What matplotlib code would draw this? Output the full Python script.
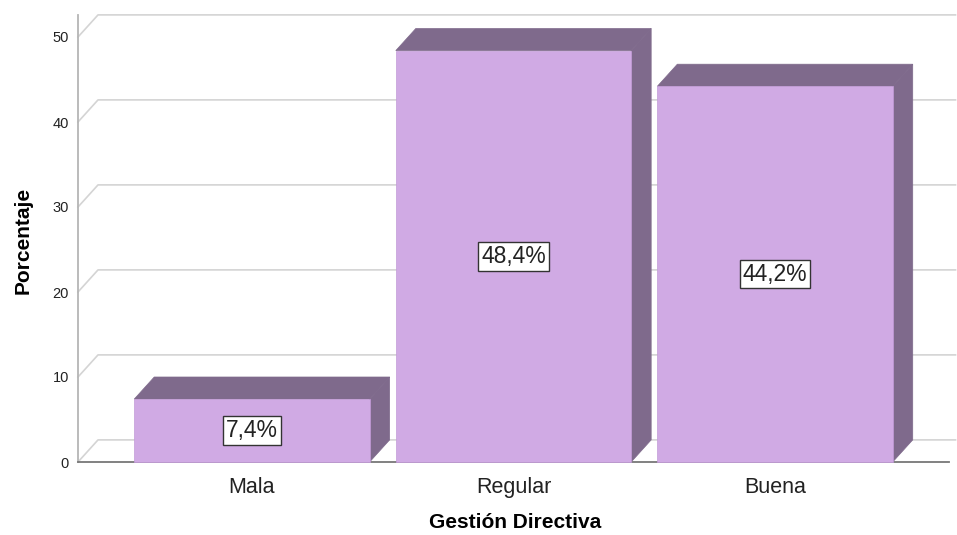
import matplotlib
matplotlib.use("Agg")
import matplotlib.pyplot as plt
from matplotlib.patches import Polygon, Rectangle

plt.rcParams["font.family"] = ["Liberation Sans", "DejaVu Sans"]

categories = ["Mala", "Regular", "Buena"]
percentages = [7.4, 48.4, 44.2]
bar_labels = ["7,4%", "48,4%", "44,2%"]
y_ticks = [0, 10, 20, 30, 40, 50]

FRONT = "#d0aae4"
SHADE = "#7f6a8c"
GRID = "#d4d4d4"

# 3D depth of the bars and the back wall, in data units
DX = 0.0765
DY = 2.6
BAR_W = 0.9
X_MIN, X_MAX_FRONT, X_MAX_BACK = -0.665, 2.665, 2.69

fig = plt.figure(figsize=(9.57, 5.35), dpi=100)
ax = fig.add_axes([78 / 957, 73 / 535, 872 / 957, 425 / 535])
ax.set_xlim(X_MIN, 2.669)
ax.set_ylim(0, 50)
for s in ax.spines.values():
    s.set_visible(False)

# back wall gridlines with the diagonal on the left wall
for v in y_ticks:
    ax.plot([X_MIN, X_MIN + DX, X_MAX_BACK], [v, v + DY, v + DY],
            color=GRID, lw=1.2, clip_on=False, zorder=1)

# left axis line and floor line
ax.plot([X_MIN, X_MIN], [0, 50 + DY], color="#b5b5b5", lw=1.3, clip_on=False, zorder=2)
ax.plot([X_MIN, X_MAX_FRONT], [0, 0], color="#777777", lw=1.3, clip_on=False, zorder=2)

for i, (h, lab) in enumerate(zip(percentages, bar_labels)):
    l, r = i - BAR_W / 2, i + BAR_W / 2
    top = Polygon([(l, h), (l + DX, h + DY), (r + DX, h + DY), (r, h)],
                  closed=True, facecolor=SHADE, edgecolor=SHADE, lw=0.5,
                  clip_on=False, zorder=3)
    side = Polygon([(r, 0), (r + DX, DY), (r + DX, h + DY), (r, h)],
                   closed=True, facecolor=SHADE, edgecolor=SHADE, lw=0.5,
                   clip_on=False, zorder=3)
    front = Rectangle((l, 0), BAR_W, h, facecolor=FRONT, edgecolor="#c39bd8",
                      lw=0.5, clip_on=False, zorder=4)
    ax.add_patch(top)
    ax.add_patch(side)
    ax.add_patch(front)
    ax.text(i, h / 2, lab, ha="center", va="center", fontsize=16.5,
            color="#222222", zorder=5,
            bbox=dict(boxstyle="square,pad=0.12", facecolor="white",
                      edgecolor="#333333", lw=1))

ax.set_yticks(y_ticks)
ax.set_yticklabels([str(v) for v in y_ticks], fontsize=10.5, color="#222222")
ax.set_xticks(range(len(categories)))
ax.set_xticklabels(categories, fontsize=15.5, color="#222222")
ax.tick_params(axis="y", length=0, pad=6.5)
ax.tick_params(axis="x", length=0, pad=11)

ax.set_ylabel("Porcentaje", fontsize=15, fontweight="bold")
ax.set_xlabel("Gestión Directiva", fontsize=15, fontweight="bold")
ax.yaxis.set_label_coords(-0.052, 0.522)
ax.xaxis.set_label_coords(0.501, -0.121)

fig.savefig("out.png", dpi=100)
